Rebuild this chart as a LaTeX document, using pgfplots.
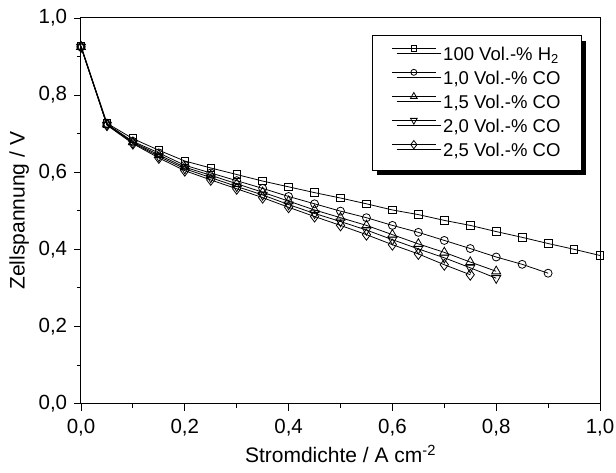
\documentclass[border=0pt]{standalone}
\usepackage{pgfplots}
\pgfplotsset{compat=1.18}
\usepackage{fontspec}
\setmainfont{Liberation Sans}
\usetikzlibrary{shadows}
\begin{document}
\fontsize{20bp}{24bp}\selectfont
\begin{tikzpicture}
\begin{axis}[
  at={(0,0)}, anchor=south west,
  scale only axis,
  width=519bp, height=385.5bp,
  xmin=0, xmax=1, ymin=0, ymax=1,
  xtick={0,0.2,...,1.0}, ytick={0,0.2,...,1.0},
  minor x tick num=1, minor y tick num=1,
  xtick pos=bottom, ytick pos=left,
  tick align=outside,
  major tick length=7bp, minor tick length=4bp,
  axis line style={line width=1bp},
  every tick/.style={line width=0.9bp, black},
  /pgf/number format/assume math mode=true,
  /pgf/number format/use comma,
  /pgf/number format/fixed,
  /pgf/number format/fixed zerofill,
  /pgf/number format/precision=1,
  tick label style={font=\fontsize{20.5bp}{24bp}\selectfont},
  xticklabel style={yshift=-2bp},
  xlabel={Stromdichte / A cm\textsuperscript{-2}},
  ylabel={Zellspannung / V},
  label style={font=\fontsize{21bp}{25bp}\selectfont},
  xlabel style={yshift=5bp},
  ylabel style={yshift=-4bp},
  clip=false,
  every axis plot/.append style={black, line width=0.8bp},
  legend cell align=left,
  legend style={at={(rel axis cs:0.965,0.955)}, anchor=north east,
    draw=black, line width=0.8bp, fill=white,
    drop shadow={shadow xshift=5bp, shadow yshift=-5bp, fill=black, opacity=1},
    font=\fontsize{18.5bp}{22bp}\selectfont,
    row sep=3.5bp, inner xsep=19bp, inner ysep=9bp},
  legend image code/.code={
    \begin{scope}[yshift=6.5bp]
    \draw[mark repeat=2,mark phase=2, every mark/.append style={scale=0.75}] plot coordinates {(0bp,0bp) (22bp,0bp) (44bp,0bp)};
    \end{scope}
    \path (49bp,0bp);},
]
\addplot[mark=square, mark size=3.8bp, mark options={solid, fill=white, line width=0.8bp}] coordinates {
(0,0.928) (0.05,0.727) (0.1,0.687) (0.15,0.657) (0.2,0.629) (0.25,0.611) (0.3,0.594) (0.35,0.577) (0.4,0.562) (0.45,0.547) (0.5,0.533) (0.55,0.518) (0.6,0.502) (0.65,0.490) (0.7,0.475) (0.75,0.462) (0.8,0.446) (0.85,0.431) (0.9,0.415) (0.95,0.400) (1.0,0.384)};
\addlegendentry{100 Vol.-\% H\textsubscript{2}}
\addplot[mark=o, mark size=4bp, mark options={solid, fill=white, line width=0.8bp}] coordinates {
(0,0.925) (0.05,0.725) (0.1,0.680) (0.15,0.650) (0.2,0.618) (0.25,0.598) (0.3,0.578) (0.35,0.558) (0.4,0.537) (0.45,0.518) (0.5,0.499) (0.55,0.482) (0.6,0.462) (0.65,0.444) (0.7,0.423) (0.75,0.402) (0.8,0.380) (0.85,0.361) (0.9,0.338)};
\addlegendentry{1,0 Vol.-\% CO}
\addplot[mark=triangle, mark size=5.2bp, mark options={solid, fill=white, line width=0.8bp}] coordinates {
(0,0.925) (0.05,0.724) (0.1,0.678) (0.15,0.645) (0.2,0.613) (0.25,0.592) (0.3,0.570) (0.35,0.548) (0.4,0.525) (0.45,0.502) (0.5,0.482) (0.55,0.462) (0.6,0.438) (0.65,0.414) (0.7,0.392) (0.75,0.367) (0.8,0.343)};
\addlegendentry{1,5 Vol.-\% CO}
\addplot[mark=triangle, mark size=5.2bp, mark options={solid, fill=white, line width=0.8bp, rotate=180}] coordinates {
(0,0.925) (0.05,0.723) (0.1,0.676) (0.15,0.641) (0.2,0.609) (0.25,0.586) (0.3,0.563) (0.35,0.541) (0.4,0.516) (0.45,0.493) (0.5,0.472) (0.55,0.450) (0.6,0.425) (0.65,0.401) (0.7,0.378) (0.75,0.352) (0.8,0.325)};
\addlegendentry{2,0 Vol.-\% CO}
\addplot[mark=diamond, mark size=5.5bp, mark options={solid, fill=white, line width=0.8bp}] coordinates {
(0,0.925) (0.05,0.722) (0.1,0.674) (0.15,0.637) (0.2,0.604) (0.25,0.580) (0.3,0.557) (0.35,0.534) (0.4,0.509) (0.45,0.485) (0.5,0.462) (0.55,0.438) (0.6,0.412) (0.65,0.388) (0.7,0.360) (0.75,0.334)};
\addlegendentry{2,5 Vol.-\% CO}
\end{axis}
\pgfresetboundingbox
\path[use as bounding box] (-81bp,-69bp) rectangle (535bp,403.5bp);
\end{tikzpicture}
\end{document}
